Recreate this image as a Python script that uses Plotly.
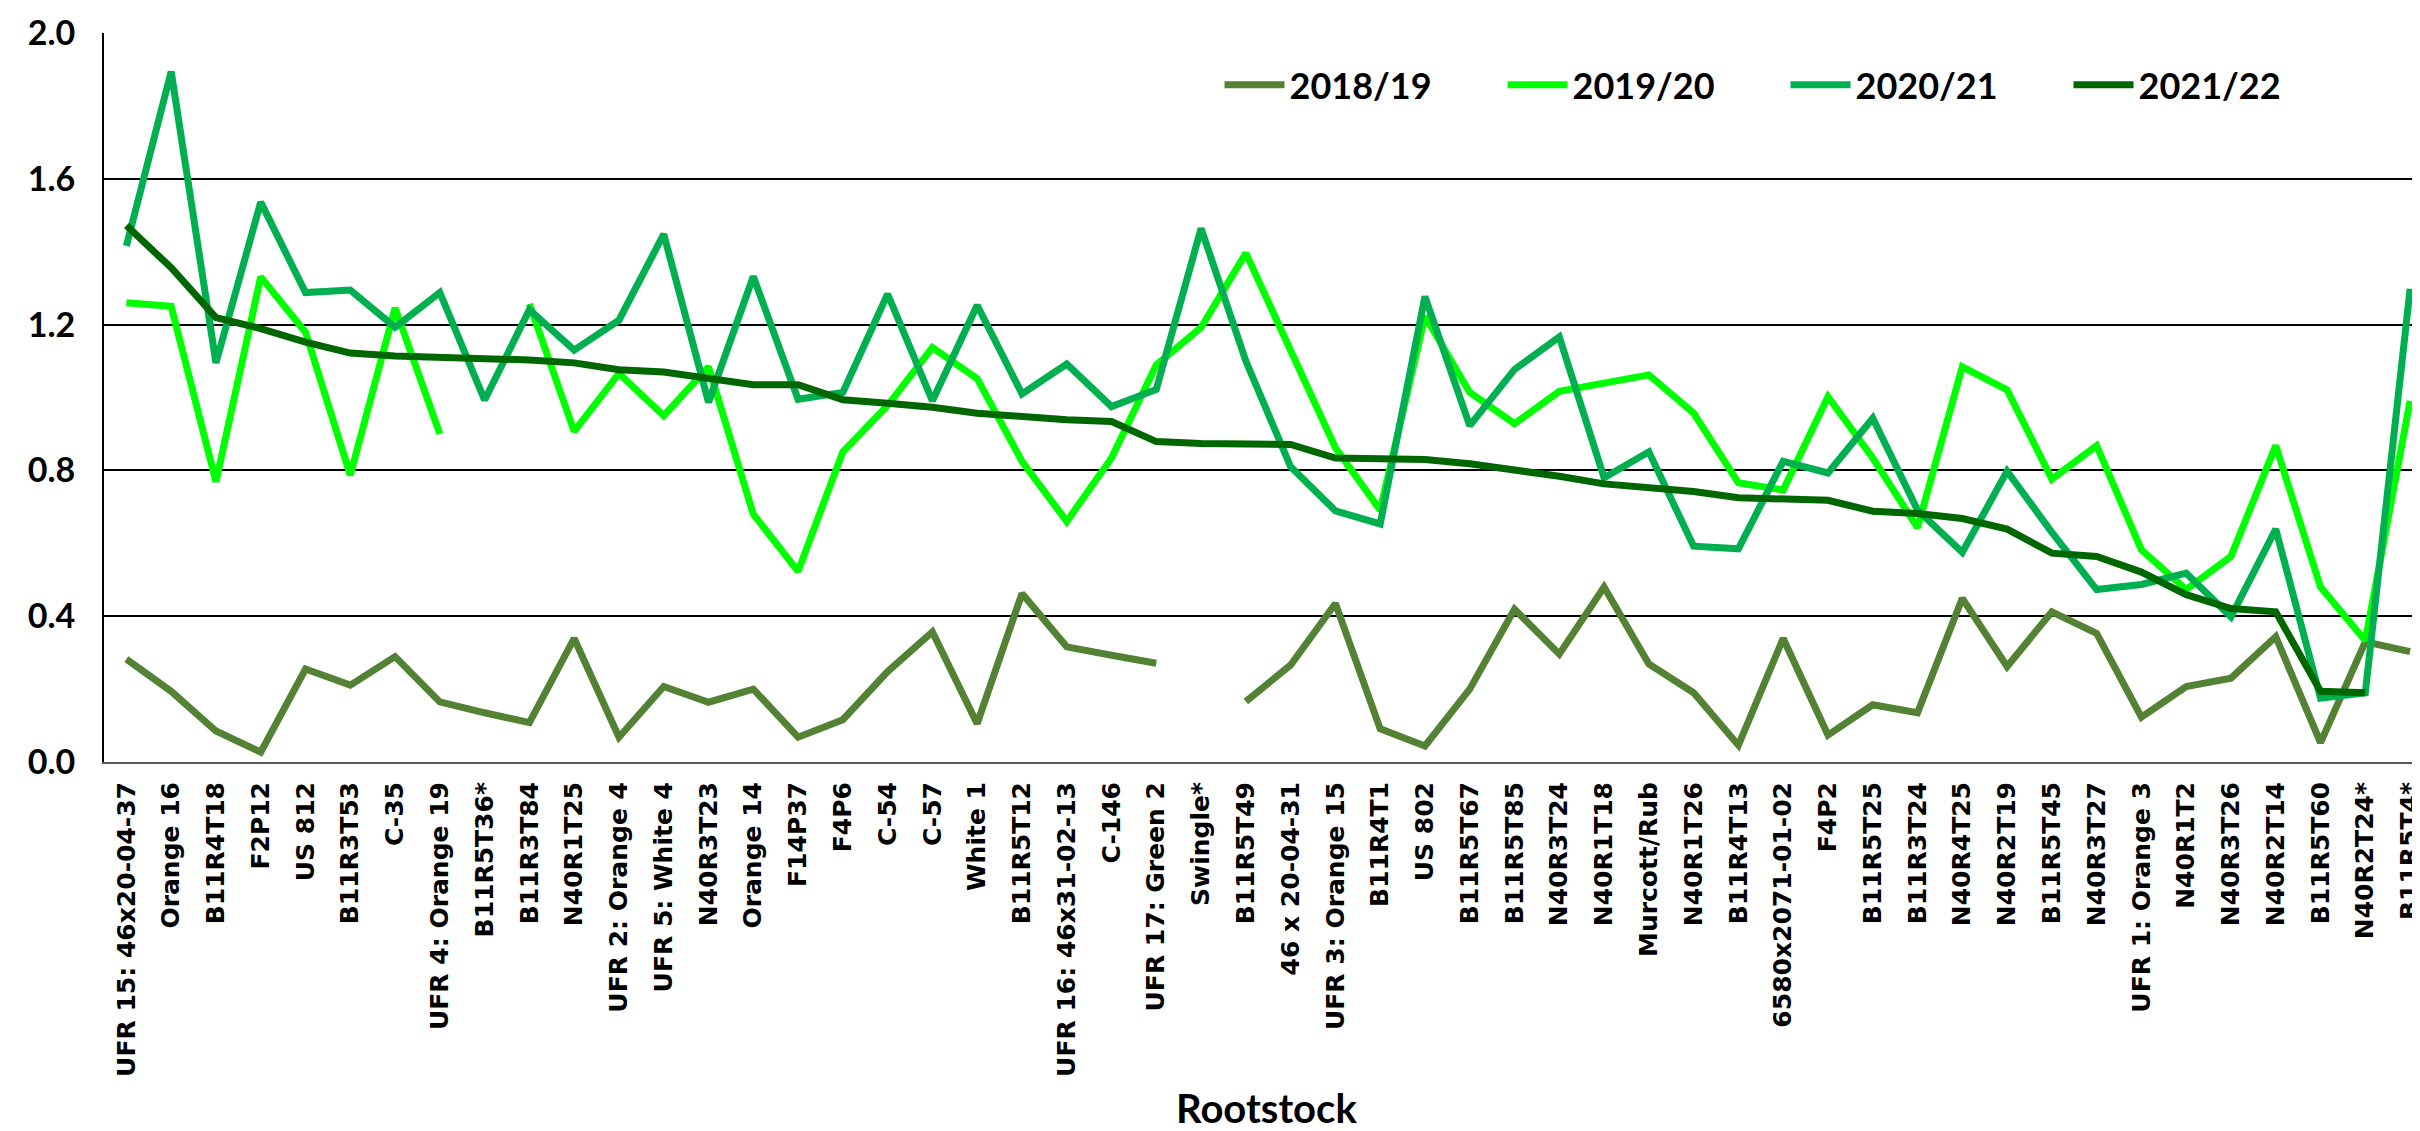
import plotly.graph_objects as go

rootstocks = [
    "UFR 15: 46x20-04-37", "Orange 16", "B11R4T18", "F2P12", "US 812", "B11R3T53", "C-35",
    "UFR 4: Orange 19", "B11R5T36*", "B11R3T84", "N40R1T25", "UFR 2: Orange 4", "UFR 5: White 4",
    "N40R3T23", "Orange 14", "F14P37", "F4P6", "C-54", "C-57", "White 1", "B11R5T12",
    "UFR 16: 46x31-02-13", "C-146", "UFR 17: Green 2", "Swingle*", "B11R5T49", "46 x 20-04-31",
    "UFR 3: Orange 15", "B11R4T1", "US 802", "B11R5T67", "B11R5T85", "N40R3T24", "N40R1T18",
    "Murcott/Rub", "N40R1T26", "B11R4T13", "6580x2071-01-02", "F4P2", "B11R5T25", "B11R3T24",
    "N40R4T25", "N40R2T19", "B11R5T45", "N40R3T27", "UFR 1: Orange 3", "N40R1T2", "N40R3T26",
    "N40R2T14", "B11R5T60", "N40R2T24*", "B11R5T4*",
]

s2018_19 = [
    0.282, 0.194, 0.085, 0.027, 0.255, 0.211, 0.289, 0.165, 0.135, 0.108, 0.339, 0.068, 0.207,
    0.164, 0.200, 0.068, 0.116, 0.248, 0.357, 0.105, 0.462, 0.316, 0.293, 0.271, None, 0.166,
    0.266, 0.435, 0.091, 0.044, 0.200, 0.419, 0.296, 0.480, 0.269, 0.190, 0.046, 0.339, 0.074,
    0.157, 0.135, 0.449, 0.262, 0.412, 0.353, 0.123, 0.207, 0.230, 0.344, 0.053, 0.330, 0.303,
]
s2019_20 = [
    1.260, 1.250, 0.769, 1.331, 1.179, 0.787, 1.246, 0.900, None, 1.257, 0.907, 1.066, 0.950,
    1.084, 0.680, 0.523, 0.851, 0.978, 1.137, 1.052, 0.825, 0.660, 0.834, 1.089, 1.192, 1.396,
    1.127, 0.862, 0.691, 1.223, 1.014, 0.928, 1.017, 1.039, 1.062, 0.957, 0.766, 0.746, 1.002,
    0.834, 0.643, 1.084, 1.021, 0.776, 0.868, 0.582, 0.473, 0.564, 0.868, 0.480, 0.333, 0.991,
]
s2020_21 = [
    1.416, 1.894, 1.095, 1.536, 1.288, 1.295, 1.193, 1.288, 0.993, 1.241, 1.130, 1.212, 1.448,
    0.987, 1.332, 0.995, 1.014, 1.284, 0.991, 1.253, 1.010, 1.092, 0.975, 1.022, 1.464, 1.100,
    0.810, 0.689, 0.653, 1.277, 0.923, 1.077, 1.166, 0.780, 0.851, 0.592, 0.585, 0.825, 0.793,
    0.943, 0.691, 0.575, 0.798, 0.630, 0.473, 0.487, 0.518, 0.398, 0.639, 0.175, 0.190, 1.298,
]
s2021_22 = [
    1.472, 1.356, 1.219, 1.189, 1.152, 1.122, 1.114, 1.111, 1.106, 1.103, 1.095, 1.076, 1.070,
    1.052, 1.035, 1.035, 0.994, 0.984, 0.973, 0.957, 0.946, 0.939, 0.934, 0.879, 0.874, 0.871,
    0.871, 0.834, 0.832, 0.830, 0.818, 0.803, 0.784, 0.763, 0.753, 0.742, 0.725, 0.722, 0.718,
    0.688, 0.682, 0.668, 0.639, 0.573, 0.564, 0.521, 0.459, 0.421, 0.412, 0.194, 0.190, None,
]

series = [
    ("2018/19", s2018_19, "#548235"),
    ("2019/20", s2019_20, "#00FF00"),
    ("2020/21", s2020_21, "#00B050"),
    ("2021/22", s2021_22, "#006600"),
]
y_ticks = [0.0, 0.4, 0.8, 1.2, 1.6, 2.0]

fig = go.Figure()
for name, vals, color in series:
    fig.add_trace(go.Scatter(
        x=rootstocks, y=vals, name=name, mode="lines",
        line=dict(color=color, width=7), connectgaps=False,
    ))

fig.update_layout(
    width=2420, height=1131,
    margin=dict(l=96, r=0, t=25, b=377),
    plot_bgcolor="white", paper_bgcolor="white",
    showlegend=True,
    legend=dict(
        orientation="h", x=0.48, xanchor="left", y=0.929, yanchor="middle",
        font=dict(family="Lato", size=36, color="black", weight="bold"),
        entrywidth=208, entrywidthmode="pixels", itemwidth=60,
        bgcolor="rgba(0,0,0,0)",
    ),
    xaxis=dict(
        type="category", range=[-0.5, 51.4], tickangle=-90,
        tickfont=dict(family="DejaVu Sans", size=25, color="black", weight="bold"),
        showline=True, linecolor="#595959", linewidth=2, showgrid=False,
        ticks="", ticklabelstandoff=8, automargin=False,
    ),
    yaxis=dict(
        range=[0, 2.0], tickvals=y_ticks, tickformat=".1f",
        tickfont=dict(family="Lato", size=34, color="black", weight="bold"),
        showline=True, linecolor="black", linewidth=2,
        showgrid=True, gridcolor="black", gridwidth=2, zeroline=False,
        ticks="", ticklabelstandoff=20, automargin=False,
    ),
    annotations=[dict(
        text="Rootstock", xref="paper", yref="paper", x=0.5, y=-0.475,
        xanchor="center", yanchor="middle", showarrow=False,
        font=dict(family="Lato", size=40, color="black", weight="bold"),
    )],
)

fig.write_html("out.html")
